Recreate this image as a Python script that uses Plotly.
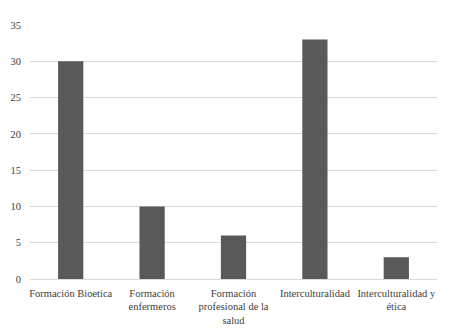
import plotly.graph_objects as go

categories = ["Formación Bioetica", "Formación<br>enfermeros", "Formación<br>profesional de la<br>salud",
              "Interculturalidad", "Interculturalidad y<br>ética"]
values = [30, 10, 6, 33, 3]
y_ticks = [0, 5, 10, 15, 20, 25, 30, 35]

FONT = "Liberation Serif, Times New Roman, serif"

fig = go.Figure(go.Bar(x=categories, y=values, marker_color="#595959",
                       marker_line_color="#595959", marker_line_width=0))

fig.update_layout(
    width=442, height=326,
    margin=dict(l=22, r=13, t=17, b=55, autoexpand=False),
    paper_bgcolor="white", plot_bgcolor="white",
    bargap=0.69,
    showlegend=False,
    font=dict(family=FONT, size=10, color="#404040"),
)
fig.update_xaxes(showgrid=False, showline=True, linecolor="#d9d9d9", linewidth=1,
                 ticks="", tickangle=0, automargin=False, ticklabelstandoff=4,
                 tickfont=dict(family=FONT, size=10.5, color="#404040"))
fig.update_yaxes(range=[0, 35], tickvals=y_ticks, showgrid=True, gridcolor="#d9d9d9",
                 gridwidth=1, zeroline=False, showline=False, ticks="", automargin=False,
                 ticklabelstandoff=8,
                 tickfont=dict(family=FONT, size=10.5, color="#404040"))

fig.write_html("out.html")
